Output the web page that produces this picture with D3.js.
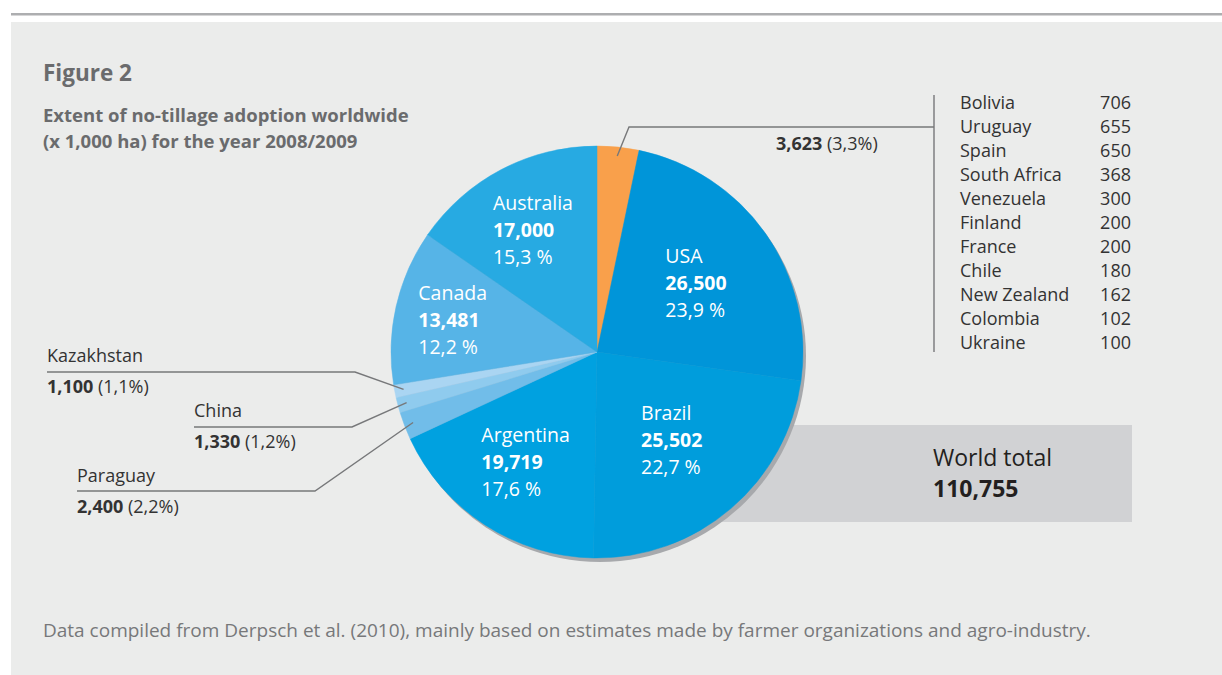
<!DOCTYPE html>
<html>
<head>
<meta charset="utf-8">
<script src="https://cdn.jsdelivr.net/npm/d3@7"></script>
<style>
  body { margin: 0; background: #fff; }
  svg { display: block; font-family: "Open Sans", Lato, sans-serif; }
</style>
</head>
<body>
<svg id="chart"></svg>
<script>
// slices, clockwise from 12 o'clock (x 1,000 ha)
var countries = ["Others", "USA", "Brazil", "Argentina", "Paraguay", "China", "Kazakhstan", "Canada", "Australia"];
var areas     = [3623, 26500, 25502, 19719, 2400, 1330, 1100, 13481, 17000];
var shares    = ["3,3%", "23,9 %", "22,7 %", "17,6 %", "2,2%", "1,2%", "1,1%", "12,2 %", "15,3 %"];
var colors    = ["#f9a04b", "#0095d9", "#009ddc", "#00a1e0", "#71bde9", "#8fcbee", "#aad5f2", "#56b4e7", "#27aae2"];

// the "Others" slice broken down
var otherNames  = ["Bolivia", "Uruguay", "Spain", "South Africa", "Venezuela", "Finland", "France", "Chile", "New Zealand", "Colombia", "Ukraine"];
var otherAreas  = [706, 655, 650, 368, 300, 200, 200, 180, 162, 102, 100];

var worldTotal = 110755;

var W = 1222, H = 675;
var cx = 597, cy = 352, radius = 206;
var fmt = d3.format(",");

var svg = d3.select("#chart").attr("width", W).attr("height", H);

// page furniture
svg.append("rect").attr("x", 11).attr("y", 13).attr("width", W - 11).attr("height", 2.5).attr("fill", "#adaeb0");
svg.append("rect").attr("x", 11).attr("y", 22).attr("width", W - 11).attr("height", H - 22).attr("fill", "#ebeceb");

svg.append("text").attr("x", 43).attr("y", 81).attr("fill", "#6a6b6d")
    .style("font-size", "22.5px").style("font-weight", "bold").text("Figure 2");
svg.append("text").attr("x", 43).attr("y", 122).attr("fill", "#6a6b6d")
    .style("font-size", "18.5px").style("font-weight", "bold").text("Extent of no-tillage adoption worldwide");
svg.append("text").attr("x", 43).attr("y", 148).attr("fill", "#6a6b6d")
    .style("font-size", "18.5px").style("font-weight", "bold").text("(x 1,000 ha) for the year 2008/2009");

svg.append("text").attr("x", 43).attr("y", 637).attr("fill", "#77787a")
    .style("font-size", "19px")
    .text("Data compiled from Derpsch et al. (2010), mainly based on estimates made by farmer organizations and agro-industry.");

// world total box (sits under the pie)
svg.append("rect").attr("x", 700).attr("y", 425).attr("width", 432).attr("height", 97).attr("fill", "#d1d2d4");
svg.append("text").attr("x", 933).attr("y", 466).attr("fill", "#231f20")
    .style("font-size", "23px").text("World total");
svg.append("text").attr("x", 933).attr("y", 497).attr("fill", "#231f20")
    .style("font-size", "23px").style("font-weight", "bold").text(fmt(worldTotal));

// pie
var slices = countries.map(function(c, i) { return {name: c, value: areas[i], share: shares[i], color: colors[i]}; });
var pie = d3.pie().sort(null).value(function(d) { return d.value; });
var arcs = pie(slices);
var arc = d3.arc().innerRadius(0).outerRadius(radius);

var g = svg.append("g").attr("transform", "translate(" + cx + "," + cy + ")");

g.append("circle").attr("cx", 3).attr("cy", 4).attr("r", radius).attr("fill", "#a7a9ac");

g.selectAll("path.slice")
    .data(arcs)
  .enter().append("path")
    .attr("class", "slice")
    .attr("d", arc)
    .attr("fill", function(d) { return d.data.color; })
    .attr("stroke", function(d) { return d.data.color; })
    .attr("stroke-width", 0.5);

// labels inside the big slices
var labelR = {USA: 121, Brazil: 115, Argentina: 131, Canada: 148, Australia: 138};
arcs.filter(function(d) { return labelR[d.data.name]; }).forEach(function(d) {
  var c = d3.arc().innerRadius(labelR[d.data.name]).outerRadius(labelR[d.data.name]).centroid(d);
  var lg = g.append("g");
  var t = lg.append("text").attr("fill", "#fff").style("font-size", "19.5px");
  t.append("tspan").attr("x", 0).attr("y", 0).text(d.data.name);
  t.append("tspan").attr("x", 0).attr("y", 27).style("font-weight", "bold").text(fmt(d.data.value));
  t.append("tspan").attr("x", 0).attr("y", 54).text(d.data.share);
  var bb = t.node().getBBox();
  lg.attr("transform", "translate(" + (c[0] - bb.x - bb.width / 2) + "," + (c[1] - bb.y - bb.height / 2) + ")");
});

// callouts for the thin slices
var callouts = {
  Others:     {knee: [629, 127], end: 934, tx: 776, ty: 150, name: false},
  Kazakhstan: {knee: [355, 372], end: 47,  tx: 47,  ty: 362, name: true},
  China:      {knee: [352, 427], end: 194, tx: 194, ty: 417, name: true},
  Paraguay:   {knee: [315, 491], end: 77,  tx: 77,  ty: 482, name: true}
};
var tipArc = d3.arc().innerRadius(197).outerRadius(197);

arcs.filter(function(d) { return callouts[d.data.name]; }).forEach(function(d) {
  var o = callouts[d.data.name];
  var p = tipArc.centroid(d);
  svg.append("polyline")
      .attr("points", [[cx + p[0], cy + p[1]], o.knee, [o.end, o.knee[1]]].map(function(q) { return q.join(","); }).join(" "))
      .attr("fill", "none").attr("stroke", "#77787a").attr("stroke-width", 1.4);
  var vy = o.ty;
  if (o.name) {
    svg.append("text").attr("x", o.tx).attr("y", o.ty).attr("fill", "#333")
        .style("font-size", "18px").text(d.data.name);
    vy = o.ty + 31;
  }
  var t = svg.append("text").attr("x", o.tx).attr("y", vy).attr("fill", "#333").style("font-size", "18px");
  t.append("tspan").style("font-weight", "bold").text(fmt(d.data.value));
  t.append("tspan").text(" (" + d.data.share + ")");
});

// breakdown of "Others"
svg.append("line").attr("x1", 934).attr("x2", 934).attr("y1", 95).attr("y2", 352)
    .attr("stroke", "#77787a").attr("stroke-width", 1.4);

var rowY = d3.scalePoint().domain(otherNames).range([109, 349]);
var rows = svg.selectAll("g.row").data(otherNames).enter().append("g").attr("class", "row");
rows.append("text").attr("x", 960).attr("y", function(d) { return rowY(d); })
    .attr("fill", "#333").style("font-size", "18px").text(function(d) { return d; });
rows.append("text").attr("x", 1131).attr("y", function(d) { return rowY(d); })
    .attr("text-anchor", "end").attr("fill", "#333").style("font-size", "18px")
    .text(function(d, i) { return otherAreas[i]; });
</script>
</body>
</html>
